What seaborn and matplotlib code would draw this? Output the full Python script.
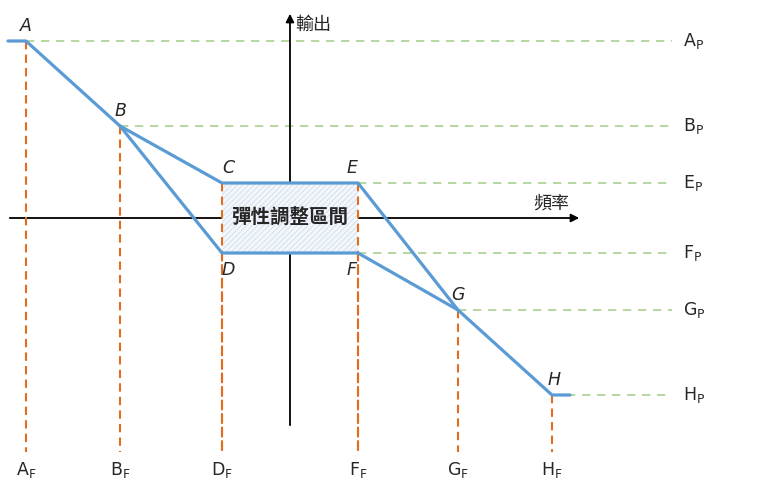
import pandas as pd
import seaborn as sns
import matplotlib.pyplot as plt
from matplotlib.patches import Rectangle

# points on the droop curve (frequency, output), origin at the axis cross
names = ["A", "B", "C", "D", "E", "F", "G", "H"]
freq = [-264, -170, -68, -68, 68, 68, 168, 262]
output = [177, 92, 35, -35, 35, -35, -92, -177]

# end stubs left of A and right of H
start_freq = -282
end_freq = 280

# which points get a frequency / output label
freq_labels = ["A", "B", "D", "F", "G", "H"]
out_labels = ["A", "B", "E", "F", "G", "H"]

box_text = "彈性調整區間"
x_title = "頻率"
y_title = "輸出"

pt = dict(zip(names, zip(freq, output)))

sns.set_theme(style="white")
plt.rcParams['font.family'] = ['DejaVu Sans', 'Noto Sans CJK TC']
plt.rcParams['hatch.linewidth'] = 0.6

fig = plt.figure(figsize=(7.74, 4.93), dpi=100)
ax = fig.add_axes([0, 0, 1, 1])
ax.set_xlim(-290, 484)
ax.set_ylim(-275, 218)
ax.axis("off")

blue = "#5b9bd5"
orange = "#e46c1e"
green = "#a9d18e"
bottom = -234
right = 382

# dashed guides
for n in freq_labels + ["C", "E"]:
    x, y = pt[n]
    ax.plot([x, x], [y, bottom], color=orange, lw=1.5, dashes=(4, 2.5), zorder=5)
for n in out_labels:
    x, y = pt[n]
    ax.plot([x, right], [y, y], color=green, lw=1.2, dashes=(5, 4), zorder=1)

# axes with arrows
ax.annotate("", xy=(292, 0), xytext=(-283, 0),
            arrowprops=dict(arrowstyle="-|>", color="black", lw=1.3, mutation_scale=12), zorder=3)
ax.annotate("", xy=(0, 207), xytext=(0, -210),
            arrowprops=dict(arrowstyle="-|>", color="black", lw=1.3, mutation_scale=12), zorder=3)

# flexible band, covers the axes
c = pt["C"]
f = pt["F"]
ax.add_patch(Rectangle((c[0], f[1]), f[0] - c[0], c[1] - f[1], facecolor="#f3f7fc",
                       edgecolor="#cfdcec", hatch="//////", lw=0, zorder=4))

# curve segments
segs = {
    "main": [(start_freq, output[0])] + [pt[n] for n in ["A", "B", "C", "E", "G", "H"]] + [(end_freq, output[-1])],
    "lower": [pt[n] for n in ["B", "D", "F", "G"]],
}
rows = []
for k, pts in segs.items():
    for i, (x, y) in enumerate(pts):
        rows.append({"seg": k, "order": i, "freq": x, "output": y})
df = pd.DataFrame(rows)
sns.lineplot(data=df, x="freq", y="output", units="seg", estimator=None, sort=False,
             color=blue, lw=2.3, ax=ax, zorder=6)

# point labels
offsets = {"A": (0, 6), "B": (0, 6), "C": (6, 6), "D": (6, -8), "E": (-6, 6),
           "F": (-6, -8), "G": (0, 6), "H": (2, 6)}
for n in names:
    x, y = pt[n]
    dx, dy = offsets[n]
    va = "bottom" if dy > 0 else "top"
    ax.text(x + dx, y + dy, n, fontstyle="italic", fontsize=12.5, ha="center", va=va, zorder=7)

for n in freq_labels:
    x, y = pt[n]
    ax.text(x, -252, n + r"$_{\rm F}$", fontsize=12.5, ha="center", va="center")
for n in out_labels:
    x, y = pt[n]
    ax.text(393, y, n + r"$_{\rm P}$", fontsize=12.5, ha="left", va="center")

ax.text(0, 0, box_text, fontsize=14, fontweight="bold", ha="center", va="center",
        family=["Noto Sans CJK TC"], zorder=7)
ax.text(5, 193, y_title, fontsize=13, ha="left", va="center", family=["Noto Sans CJK TC"])
ax.text(261, 15, x_title, fontsize=13, ha="center", va="center", family=["Noto Sans CJK TC"])

fig.savefig("out.png", dpi=100)
